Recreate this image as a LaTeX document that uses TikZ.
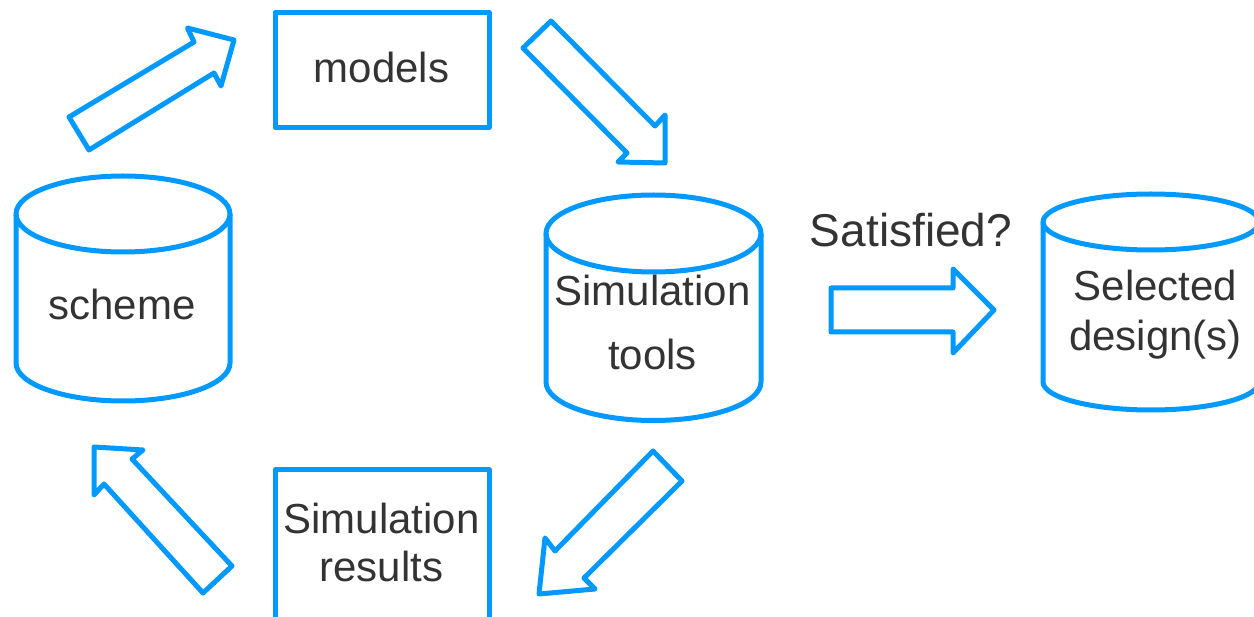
\documentclass[tikz,border=0pt]{standalone}
\usepackage{fontspec}
\setmainfont{Liberation Sans}
\definecolor{flowblue}{RGB}{0,153,255}
\definecolor{inkgray}{RGB}{51,51,51}
\tikzset{
  outline/.style={draw=flowblue, line width=5pt, line join=round},
  blockarrow/.style={outline, fill=white},
  lbl/.style={text=inkgray, inner sep=0pt, anchor=base,
    font=\fontsize{42}{48}\selectfont},
  biglbl/.style={lbl, font=\fontsize{46}{52}\selectfont},
}
% Draws a cylinder: centre x, top-ellipse y, bottom-ellipse y, x radius, y radius
\newcommand{\dbcylinder}[5]{%
  \draw[outline] ({#1-#4},#2) -- ({#1-#4},#3)
    arc[start angle=180, end angle=0, x radius=#4, y radius=#5]
    -- ({#1+#4},#2);
  \draw[outline] (#1,#2) ellipse[x radius=#4, y radius=#5];
}
\begin{document}
\begin{tikzpicture}[x=1pt, y=-1pt]
  \useasboundingbox (0,0) rectangle (1254,617);
  \clip (0,0) rectangle (1254,617);

  % boxes
  \draw[outline] (275,12.5) rectangle (489,127.5);
  \node[lbl] (models) at (381.5,82.7) {models};
  \draw[outline] (275,470) rectangle (489,619);
  \node[lbl] (results1) at (381.5,534) {Simulation};
  \node[lbl] (results2) at (381.5,581) {results};

  % cylinders
  \dbcylinder{123}{214}{363}{107}{38}
  \node[lbl] (scheme) at (122,320) {scheme};
  \dbcylinder{653.5}{233.5}{382}{107.5}{38.5}
  \node[lbl] (tools1) at (652.5,306) {Simulation};
  \node[lbl] (tools2) at (652.5,370) {tools};
  \dbcylinder{1151}{222}{382}{108}{28}
  \node[lbl] (selected1) at (1155.5,301) {Selected};
  \node[lbl] (selected2) at (1155.5,351) {design(s)};

  \node[biglbl] (satisfied) at (911,247) {Satisfied?};

  % block arrows around the loop
  \draw[blockarrow] (69,117) -- (89,150) -- (214,73) -- (221,86)
    -- (234,40) -- (187.5,28) -- (194,42) -- cycle;
  \draw[blockarrow] (551,21) -- (523,48) -- (627,153) -- (618,162)
    -- (665,163) -- (665,115) -- (655,126) -- cycle;
  \draw[blockarrow] (653,451) -- (682,481) -- (584,578) -- (595,589)
    -- (539,594) -- (545,538) -- (555,551) -- cycle;
  \draw[blockarrow] (232,566) -- (203,593) -- (104,484) -- (94,495)
    -- (94,447) -- (143,450) -- (132,459) -- cycle;
  % exit arrow
  \draw[blockarrow] (831,288) -- (953,288) -- (953,269) -- (994,310)
    -- (953,353) -- (953,332) -- (831,332) -- cycle;
\end{tikzpicture}
\end{document}
